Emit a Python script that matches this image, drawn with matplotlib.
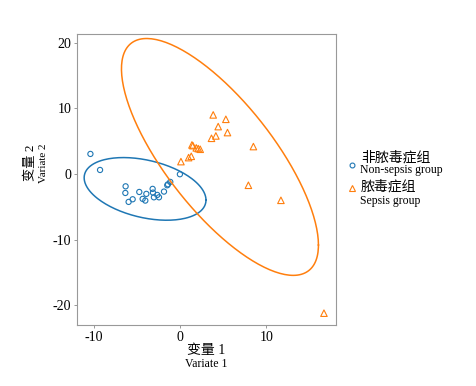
import numpy as np
import matplotlib.pyplot as plt
from matplotlib.lines import Line2D

# Non-sepsis group (variate 1, variate 2)
non_x = [-10.44, -9.32, -6.35, -6.38, -6.00, -5.53, -4.76, -4.37, -4.06, -3.94,
         -3.21, -3.17, -3.06, -2.67, -2.47, -1.89, -1.51, -1.43, -1.16, -0.04]
non_y = [3.04, 0.60, -1.89, -2.90, -4.26, -3.86, -2.75, -3.80, -4.06, -3.04,
         -2.28, -2.85, -3.56, -3.20, -3.56, -2.69, -1.73, -1.58, -1.22, -0.05]

# Sepsis group
sep_x = [0.08, 0.97, 1.28, 1.36, 1.47, 1.86, 2.09, 2.32, 3.63, 3.83,
         4.14, 4.41, 5.30, 5.49, 8.50, 7.92, 11.70, 16.70]
sep_y = [1.87, 2.48, 2.68, 4.41, 4.30, 3.96, 3.85, 3.75, 5.42, 8.98,
         5.78, 7.20, 8.31, 6.29, 4.16, -1.73, -4.02, -21.20]

x_ticks = [-10, 0, 10]
y_ticks = [-20, -10, 0, 10, 20]

blue = '#1f77b4'
orange = '#ff7f0e'
# Times-like serif first, CJK glyphs fall back to Noto
serif = ['Liberation Serif', 'Noto Sans CJK SC']


def ellipse_xy(xs, ys, level=0.95, segments=200):
    # normal-theory confidence ellipse (like stat_ellipse type="norm")
    pts = np.column_stack([xs, ys])
    n = len(pts)
    loc = pts.mean(axis=0)
    cov = np.cov(pts.T)
    d = n - 1
    qf = d / 2 * ((1 - level) ** (-2 / d) - 1)
    radius = np.sqrt(2 * qf)
    t = np.linspace(0, 2 * np.pi, segments)
    circle = np.column_stack([np.cos(t), np.sin(t)])
    L = np.linalg.cholesky(cov)
    e = loc + radius * circle @ L.T
    return e[:, 0], e[:, 1]


fig = plt.figure(figsize=(4.77, 3.86), dpi=100)
ax = fig.add_axes([0.1614, 0.158, 0.543, 0.754])

ex, ey = ellipse_xy(non_x, non_y)
ax.plot(ex, ey, color=blue, lw=1.1)
ex, ey = ellipse_xy(sep_x, sep_y)
ax.plot(ex, ey, color=orange, lw=1.1)

ax.scatter(non_x, non_y, s=14, facecolors='none', edgecolors=blue, marker='o', linewidths=0.8)
ax.scatter(sep_x, sep_y, s=22, facecolors='none', edgecolors=orange, marker='^', linewidths=0.8)

ax.set_xlim(-12, 18.1)
ax.set_ylim(-23.0, 21.3)
ax.set_xticks(x_ticks)
ax.set_yticks(y_ticks)
ax.set_xticklabels([str(v) for v in x_ticks], family=serif, fontsize=10)
ax.set_yticklabels([str(v) for v in y_ticks], family=serif, fontsize=10)
ax.tick_params(length=2.5, width=0.6, color='#888888', pad=1.5)
for s in ax.spines.values():
    s.set_color('#999999')
    s.set_linewidth(0.8)

# axis labels: Chinese line + English line
ax.text(0.5, -0.087, '变量 1', transform=ax.transAxes, ha='center', va='center',
        family=serif, fontsize=10, weight='light')
ax.text(0.5, -0.133, 'Variate 1', transform=ax.transAxes, ha='center', va='center',
        family=serif, fontsize=8.5)
ax.text(-0.18, 0.557, '变量 2', transform=ax.transAxes, ha='center', va='center',
        rotation=90, family=serif, fontsize=9.5, weight='light')
ax.text(-0.13, 0.557, 'Variate 2', transform=ax.transAxes, ha='center', va='center',
        rotation=90, family=serif, fontsize=8)

# legend outside the panel: key, Chinese line, English baseline
legend_rows = [
    ('o', 3.5, blue, '非脓毒症组', 'Non-sepsis group', 0.5725, 0.5925, 0.5518),
    ('^', 4.2, orange, '脓毒症组', 'Sepsis group', 0.5122, 0.5155, 0.4723),
]
for mk, ms, col, zh, en, yk, yz, ye in legend_rows:
    fig.add_artist(Line2D([0.7386], [yk], transform=fig.transFigure, ls='none',
                          marker=mk, markersize=ms, markerfacecolor='none',
                          markeredgecolor=col, markeredgewidth=0.8))
    fig.text(0.757, yz, zh, family=serif, fontsize=10, weight='light', ha='left', va='center')
    fig.text(0.755, ye, en, family=serif, fontsize=8.5, ha='left', va='baseline')

fig.savefig('out.png', dpi=100)
